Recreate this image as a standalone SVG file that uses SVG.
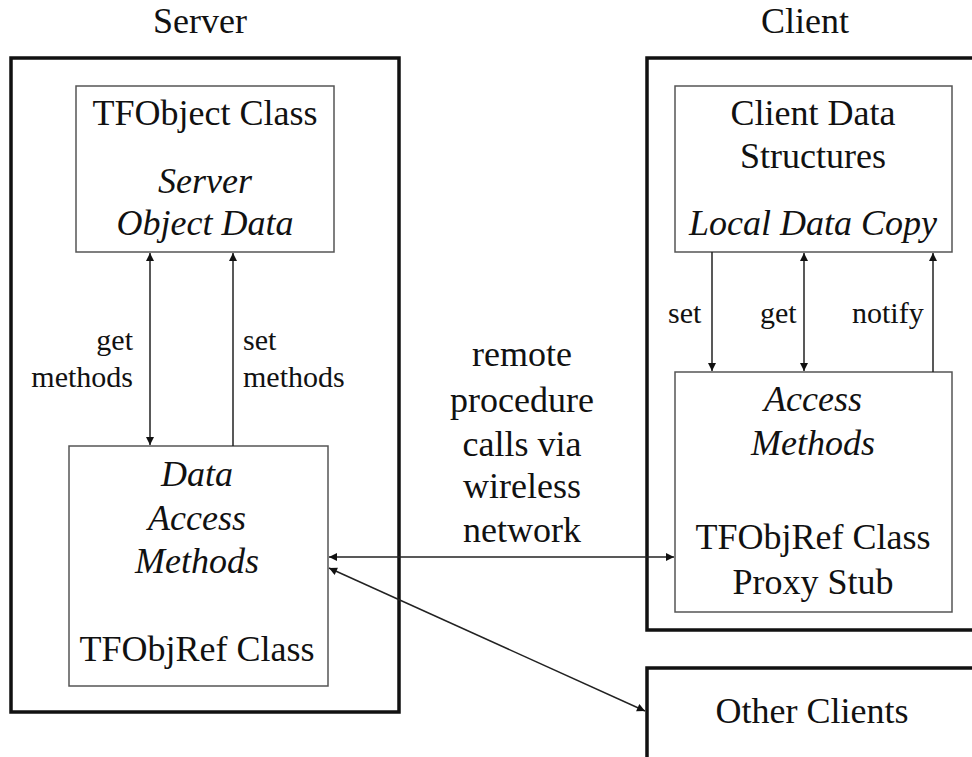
<svg xmlns="http://www.w3.org/2000/svg" width="972" height="757" viewBox="0 0 972 757">
<style>
.bg{fill:#ffffff}
.outer{fill:none;stroke:#111;stroke-width:3.5}
.inner{fill:none;stroke:#555;stroke-width:1.5}
.t{font-family:'Liberation Serif',Tinos,'Times New Roman',Times,'DejaVu Serif',serif;font-size:36px;fill:#111;text-anchor:middle}
.i{font-style:italic}
.lab{font-family:'Liberation Serif',Tinos,'Times New Roman',Times,'DejaVu Serif',serif;font-size:30px;fill:#111}
.conn{stroke:#222;stroke-width:1.5;fill:none}
</style>
<defs>
<marker id="ah" viewBox="0 0 10 10" refX="10" refY="5" markerWidth="9" markerHeight="8" markerUnits="userSpaceOnUse" orient="auto-start-reverse">
<path d="M0,0 L10,5 L0,10 z" fill="#111"/>
</marker>
</defs>
<rect class="bg" x="0" y="0" width="972" height="757"/>

<text class="t" x="200" y="33">Server</text>
<text class="t" x="805" y="33">Client</text>

<g id="server">
<rect class="outer" x="11" y="58" width="388" height="654"/>
</g>
<g id="client">
<rect class="outer" x="647" y="58" width="400" height="572"/>
</g>

<g id="tfobject">
<rect class="inner" x="76" y="86" width="258" height="166"/>
<text class="t" x="205" y="125">TFObject Class</text>
<text class="t i" x="205" y="193">Server</text>
<text class="t i" x="205" y="235">Object Data</text>
</g>

<g id="dataaccess">
<rect class="inner" x="69" y="446" width="259" height="240"/>
<text class="t i" x="197" y="486">Data</text>
<text class="t i" x="197" y="530">Access</text>
<text class="t i" x="197" y="573">Methods</text>
<text class="t" x="197" y="661">TFObjRef Class</text>
</g>

<g id="clientdata">
<rect class="inner" x="675" y="86" width="277" height="166"/>
<text class="t" x="813" y="125">Client Data</text>
<text class="t" x="813" y="168">Structures</text>
<text class="t i" x="813" y="235">Local Data Copy</text>
</g>

<g id="accessmethods">
<rect class="inner" x="675" y="372" width="277" height="240"/>
<text class="t i" x="813" y="411">Access</text>
<text class="t i" x="813" y="455">Methods</text>
<text class="t" x="813" y="549">TFObjRef Class</text>
<text class="t" x="813" y="594">Proxy Stub</text>
</g>

<g id="otherclients">
<rect class="outer" x="647" y="668" width="400" height="200"/>
<text class="t" x="812" y="723">Other Clients</text>
</g>

<g id="connectors">
<line class="conn" x1="150" y1="253" x2="150" y2="445" marker-start="url(#ah)" marker-end="url(#ah)"/>
<line class="conn" x1="233" y1="446" x2="233" y2="253" marker-end="url(#ah)"/>
<line class="conn" x1="712" y1="252" x2="712" y2="371" marker-end="url(#ah)"/>
<line class="conn" x1="804" y1="253" x2="804" y2="371" marker-start="url(#ah)" marker-end="url(#ah)"/>
<line class="conn" x1="933" y1="372" x2="933" y2="253" marker-end="url(#ah)"/>
<line class="conn" x1="329" y1="557" x2="674" y2="557" marker-start="url(#ah)" marker-end="url(#ah)"/>
<line class="conn" x1="329" y1="568" x2="645" y2="711" marker-start="url(#ah)" marker-end="url(#ah)"/>
</g>

<g id="labels">
<text class="lab" x="133" y="350" text-anchor="end">get</text>
<text class="lab" x="133" y="387" text-anchor="end">methods</text>
<text class="lab" x="243" y="350">set</text>
<text class="lab" x="243" y="387">methods</text>
<text class="lab" x="668" y="323">set</text>
<text class="lab" x="760" y="323">get</text>
<text class="lab" x="852" y="323">notify</text>
<text class="t" x="522" y="366">remote</text>
<text class="t" x="522" y="412">procedure</text>
<text class="t" x="522" y="456">calls via</text>
<text class="t" x="522" y="498">wireless</text>
<text class="t" x="522" y="542">network</text>
</g>
</svg>
